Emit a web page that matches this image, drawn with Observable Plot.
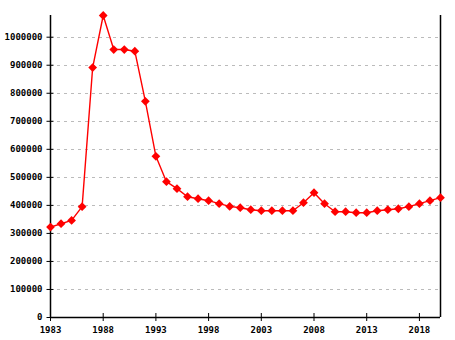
<!DOCTYPE html>
<html>
<head>
<meta charset="utf-8">
<script src="https://cdn.jsdelivr.net/npm/d3@7"></script>
<script src="https://cdn.jsdelivr.net/npm/@observablehq/plot@0.6"></script>
<style>
  html, body { margin: 0; padding: 0; background: #fff; }
  svg { display: block; }
</style>
</head>
<body>
<div id="chart"></div>
<script>
const years = [1983,1984,1985,1986,1987,1988,1989,1990,1991,1992,1993,1994,1995,1996,1997,1998,1999,2000,2001,2002,2003,2004,2005,2006,2007,2008,2009,2010,2011,2012,2013,2014,2015,2016,2017,2018,2019,2020];
const population = [322500,334600,346400,395400,891700,1077400,956000,956000,950000,771400,575000,484600,459600,431000,423800,416700,406000,396400,391700,384600,381000,381000,381000,381000,409600,445400,406000,377500,377500,373900,373900,381000,384600,388000,395400,406000,416700,427500];
const xTickValues = [1983,1988,1993,1998,2003,2008,2013,2018];
const yTickValues = [0,100000,200000,300000,400000,500000,600000,700000,800000,900000,1000000];

const data = years.map((y, i) => ({year: y, value: population[i]}));
const font = "DejaVu Sans Mono";

const chart = Plot.plot({
  width: 455,
  height: 340,
  marginLeft: 50,
  marginRight: 15,
  marginTop: 15,
  marginBottom: 23,
  style: {fontFamily: font, fontSize: "9px", fontWeight: "bold", background: "#fff", color: "#000"},
  x: {domain: [1983, 2020], label: null},
  y: {domain: [0, d3.max(population)], label: null},
  marks: [
    Plot.ruleY(yTickValues.filter(d => d > 0), {stroke: "#bbb", strokeDasharray: "3,4", strokeWidth: 1, shapeRendering: "crispEdges"}),
    Plot.ruleX([1983, 2020], {stroke: "#000", strokeWidth: 1.5}),
    Plot.ruleY([0], {stroke: "#000", strokeWidth: 1.5}),
    Plot.axisY(yTickValues, {tickSize: 7, dx: 3.5, tickFormat: () => "", stroke: "#000"}),
    Plot.axisY(yTickValues, {tickSize: 0, tickPadding: 8, tickFormat: d => String(d), fill: "#000"}),
    Plot.axisX(xTickValues, {tickSize: 8, dy: -4, tickFormat: () => "", stroke: "#000"}),
    Plot.axisX(xTickValues, {tickSize: 0, tickPadding: 9, tickFormat: d => String(d), fill: "#000"}),
    Plot.line(data, {x: "year", y: "value", stroke: "red", strokeWidth: 1.4}),
    Plot.dot(data, {x: "year", y: "value", symbol: "square", rotate: 45, r: 3.5, fill: "red", stroke: "none"})
  ]
});
document.getElementById("chart").appendChild(chart);
</script>
</body>
</html>
